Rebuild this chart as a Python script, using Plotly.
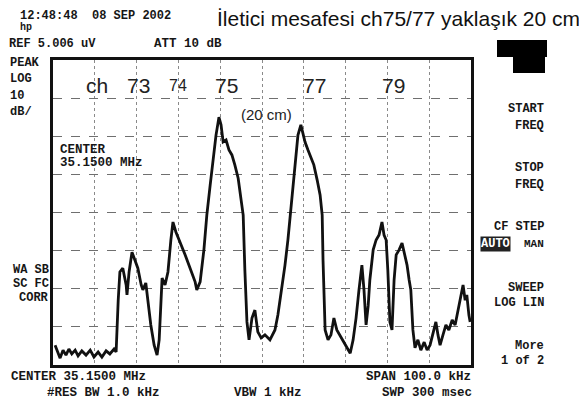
import plotly.graph_objects as go

# Frequency offset from centre 35.1500 MHz (kHz) and level (dB below reference)
freq_khz = [-49.5, -48.8, -48.3, -47.6, -46.9, -46.2, -45.5, -44.7, -44.0, -43.1, -42.1, -41.1,
            -40.2, -39.2, -38.3, -37.3, -36.4, -35.4, -34.9, -34.4, -34.0, -33.3, -32.5, -32.3,
            -31.8, -31.1, -30.4, -29.7, -28.9, -28.5, -27.8, -27.3, -26.6, -25.8, -25.1, -24.6,
            -24.2, -23.9, -23.2, -22.5, -21.8, -21.3, -20.6, -19.6, -18.4, -17.2, -16.0, -15.6,
            -14.8, -13.9, -13.2, -12.4, -11.7, -11.0, -10.3, -9.8, -9.3, -8.6, -7.9, -7.2,
            -6.5, -5.7, -5.0, -4.5, -4.1, -3.6, -3.1, -2.4, -1.7, -1.0, -0.2, 0.7,
            1.9, 3.1, 3.8, 4.8, 5.5, 6.2, 7.2, 7.9, 8.6, 9.3, 9.8, 10.3,
            11.0, 11.7, 12.4, 13.2, 13.9, 14.4, 14.6, 15.1, 15.8, 16.5, 17.2, 17.9,
            18.7, 19.6, 20.3, 21.1, 21.8, 22.5, 23.2, 23.9, 24.4, 24.9, 25.4, 25.8,
            26.6, 27.3, 28.0, 28.7, 29.2, 29.7, 30.1, 30.6, 31.1, 31.6, 32.1, 32.8,
            33.5, 34.2, 34.7, 35.2, 35.6, 36.1, 36.6, 37.3, 38.0, 38.8, 39.5, 40.2,
            40.9, 41.6, 42.1, 42.6, 43.3, 44.0, 44.7, 45.5, 46.2, 46.9, 47.6, 48.1,
            48.6, 49.0, 49.5, 49.8]
level_db = [-74.8, -76.6, -78.2, -76.1, -77.4, -75.8, -77.1, -76.1, -77.6, -76.3, -77.4, -76.1,
            -77.9, -76.6, -77.9, -76.3, -77.1, -75.8, -76.6, -63.0, -55.6, -54.6, -59.0, -61.6,
            -55.6, -50.4, -52.5, -54.6, -59.0, -60.3, -58.5, -63.0, -69.5, -74.8, -77.4, -73.4,
            -63.0, -57.2, -59.0, -55.6, -47.2, -42.5, -45.1, -47.7, -51.1, -54.6, -58.2, -60.3,
            -58.2, -49.8, -40.7, -32.8, -26.2, -19.7, -15.0, -17.0, -21.5, -21.0, -23.6, -24.9,
            -27.5, -31.0, -36.7, -40.7, -55.1, -68.7, -73.4, -67.7, -65.6, -71.3, -72.9, -72.1,
            -73.4, -70.8, -66.9, -59.8, -53.8, -47.2, -35.4, -26.2, -19.7, -17.0, -19.1, -21.5,
            -23.6, -25.7, -27.5, -31.5, -35.4, -40.7, -52.5, -70.8, -73.4, -72.1, -67.7, -70.8,
            -72.4, -74.0, -75.5, -76.9, -73.4, -67.7, -60.3, -53.8, -60.3, -69.5, -64.5, -57.7,
            -49.8, -47.2, -45.9, -42.5, -45.9, -47.2, -55.1, -68.7, -70.8, -57.7, -51.1, -49.8,
            -48.0, -51.1, -53.8, -57.7, -60.3, -70.8, -75.5, -73.4, -76.1, -74.0, -76.1, -74.8,
            -72.1, -68.7, -72.1, -74.8, -72.1, -69.5, -70.8, -68.2, -69.5, -65.6, -61.6, -59.0,
            -63.0, -61.6, -66.9, -68.7]

channel_labels = ["ch", "73", "74", "75", "77", "79"]
channel_freqs = [-39.5, -29.5, -20.0, -8.5, 12.5, 31.5]
channel_sizes = [21, 21, 16, 21, 21, 21]

title_text = "İletici mesafesi ch75/77 yaklaşık 20 cm"
note_text = "(20 cm)"

OFF = 8  # page body margin of the browser
L, R, T, B = 53 - OFF, 471 - OFF, 60 - OFF, 365 - OFF
W, H = 587, 405


def px(x):
    return (x - OFF - L) / (R - L)


def py(y):
    return (B - (y - OFF)) / (B - T)


fig = go.Figure()
fig.add_trace(go.Scatter(x=freq_khz, y=level_db, mode="lines",
                         line=dict(color="#111111", width=2.8), hoverinfo="skip"))

ann = []
mono = "Liberation Mono"


def txt(s, x, y, size=13, family=mono, xanchor="left", color="#161616", bold=True, bg=None):
    d = dict(text=("<b>%s</b>" % s) if bold else s, x=px(x), y=py(y), xref="paper", yref="paper",
             xanchor=xanchor, yanchor="middle", showarrow=False, borderpad=0,
             font=dict(family=family, size=size, color=color))
    if bg:
        d["bgcolor"] = bg
    ann.append(d)


# Title
txt(title_text, 216, 19, size=21, family="Liberation Sans", bold=False, color="#111")
# instrument header
txt("12:48:48  08 SEP 2002", 19, 16, size=12)
txt("hp", 19, 28, size=10)
txt("REF 5.006 uV", 8, 44, size=12)
txt("ATT 10 dB", 153, 44, size=12.5)
for i, s in enumerate(["PEAK", "LOG", "10", "dB/"]):
    txt(s, 9, 63 + 16.3 * i, size=12)
for i, s in enumerate(["WA SB", "SC FC", "CORR"]):
    txt(s, 50, 270 + 14 * i, size=12, xanchor="right")
txt("CENTER", 59, 150, size=12.5)
txt("35.1500 MHz", 59, 163, size=12.5)
txt("CENTER 35.1500 MHz", 10, 377, size=12.5)
txt("#RES BW 1.0 kHz", 46, 393, size=12.5)
txt("VBW 1 kHz", 233, 393, size=12.5)
txt("SPAN 100.0 kHz", 472, 377, size=12.5, xanchor="right")
txt("SWP 300 msec", 473, 393, size=12.5, xanchor="right")
# softkeys
for s, y in [("START", 109), ("FREQ", 126), ("STOP", 168), ("FREQ", 185),
             ("CF STEP", 227), ("SWEEP", 288), ("LOG LIN", 303), ("More", 346), ("1 of 2", 361)]:
    txt(s, 545, y, size=12, xanchor="right")
txt("AUTO", 480, 244, size=12, color="white", bg="#222")
txt("MAN", 545, 244, size=11, xanchor="right")

# channel labels (data positions)
for lab, f, s in zip(channel_labels, channel_freqs, channel_sizes):
    ann.append(dict(text=lab, x=f, y=-6.6, xref="x", yref="y", showarrow=False,
                    xanchor="center", yanchor="middle",
                    font=dict(family="Liberation Sans", size=s, color="#222")))
ann.append(dict(text=note_text, x=1.0, y=-14.3, xref="x", yref="y", showarrow=False,
                xanchor="center", yanchor="middle",
                font=dict(family="Liberation Sans", size=15, color="#222")))

shapes = [
    dict(type="rect", xref="paper", yref="paper", x0=px(497), x1=px(547), y0=py(57), y1=py(40),
         fillcolor="#000", line=dict(width=0)),
    dict(type="rect", xref="paper", yref="paper", x0=px(513), x1=px(545), y0=py(73), y1=py(56),
         fillcolor="#000", line=dict(width=0)),
]

fig.update_layout(
    width=W, height=H, margin=dict(l=L, r=W - R, t=T, b=H - B),
    paper_bgcolor="white", plot_bgcolor="white", showlegend=False,
    annotations=ann, shapes=shapes,
)
fig.update_xaxes(range=[-50, 50], dtick=10, showticklabels=False, ticks="",
                 showgrid=True, gridcolor="#8a8a8a", griddash="dot", gridwidth=1,
                 zeroline=False, showline=True, linecolor="#111", linewidth=3, mirror=True)
fig.update_yaxes(range=[-80, 0], dtick=10, showticklabels=False, ticks="",
                 showgrid=True, gridcolor="#6f6f6f", griddash="dash", gridwidth=1,
                 zeroline=False, showline=True, linecolor="#111", linewidth=3, mirror=True)

fig.write_html("out.html")
